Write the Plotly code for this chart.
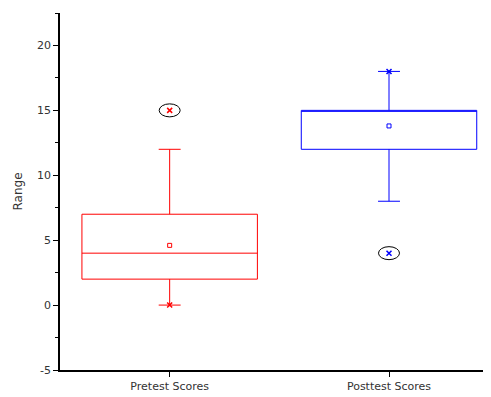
import plotly.graph_objects as go

categories = ["Pretest Scores", "Posttest Scores"]
q1 = [2, 12]
median = [4, 15]
q3 = [7, 15]
lower_whisker = [0, 8]
upper_whisker = [12, 18]
means = [4.6, 13.8]
extreme_marks = [[0], [18]]
outliers = [[15], [4]]
colors = ["#FF0000", "#0000FF"]
y_tick_values = [-5, 0, 5, 10, 15, 20]
y_tick_labels = ["-5", "0", "5", "10", "15", "20"]

fig = go.Figure()
for i, cat in enumerate(categories):
    fig.add_trace(go.Box(
        x=[cat], q1=[q1[i]], median=[median[i]], q3=[q3[i]],
        lowerfence=[lower_whisker[i]], upperfence=[upper_whisker[i]],
        boxpoints=False, width=0.8, whiskerwidth=0.125,
        fillcolor="rgba(0,0,0,0)", line=dict(color=colors[i], width=1),
        showlegend=False, hoverinfo="skip"))
    fig.add_trace(go.Scatter(
        x=[cat], y=[means[i]], mode="markers",
        marker=dict(symbol="square-open", size=4, color=colors[i], line=dict(width=1, color=colors[i])),
        showlegend=False))
    xs = extreme_marks[i] + outliers[i]
    fig.add_trace(go.Scatter(
        x=[cat] * len(xs), y=xs, mode="markers",
        marker=dict(symbol="x-thin", size=5, color=colors[i], line=dict(width=1.5, color=colors[i])),
        showlegend=False))
    for v in outliers[i]:
        fig.add_shape(type="circle", xref="x", yref="y",
                      xsizemode="pixel", ysizemode="pixel",
                      xanchor=i, yanchor=v, x0=-10.5, x1=10.5, y0=-6.5, y1=6.5,
                      line=dict(color="black", width=1))

fig.update_layout(
    width=483, height=389,
    margin=dict(l=52, r=0, t=5, b=27),
    plot_bgcolor="white", paper_bgcolor="white",
    font=dict(family="DejaVu Sans", size=11, color="#333"),
)
fig.update_xaxes(
    type="category", range=[-0.5, 1.465], showgrid=False, zeroline=False,
    showline=True, linecolor="black", linewidth=1.5,
    ticks="outside", ticklen=5, tickcolor="black", tickwidth=1,
    tickfont=dict(size=11, color="#333"),
)
fig.update_yaxes(
    range=[-5, 22.5], tickvals=y_tick_values, ticktext=y_tick_labels,
    showgrid=False, zeroline=False,
    showline=True, linecolor="black", linewidth=1.5,
    ticks="outside", ticklen=5, tickcolor="black", tickwidth=1,
    minor=dict(dtick=2.5, tick0=0, ticks="outside", ticklen=3, tickcolor="black", showgrid=False),
    title=dict(text="Range", font=dict(size=12, color="#333"), standoff=12),
    tickfont=dict(size=11, color="#333"),
)

fig.write_html("out.html")
